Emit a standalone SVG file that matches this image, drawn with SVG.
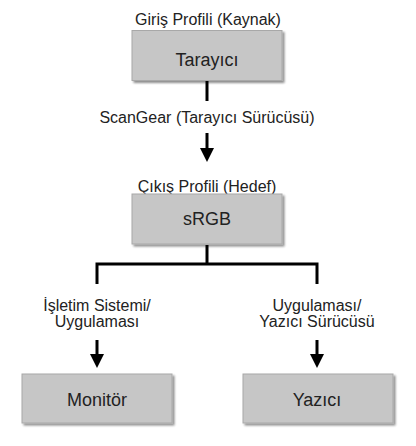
<svg xmlns="http://www.w3.org/2000/svg" width="416" height="446" viewBox="0 0 416 446">
<style>
.box{fill:#c6c6c6;stroke:#a8a8a8;stroke-width:1}
.t{font-family:"Liberation Sans",Arial,sans-serif;font-size:16px;fill:#222;text-anchor:middle}
.bt{font-family:"Liberation Sans",Arial,sans-serif;font-size:18px;fill:#222;text-anchor:middle}
.ln{stroke:#000;stroke-width:3;fill:none}
.ah{fill:#000}
</style>
<defs>
<filter id="ds" x="-10%" y="-10%" width="130%" height="140%">
<feGaussianBlur in="SourceAlpha" stdDeviation="1"/>
<feOffset dx="2" dy="2" result="b"/>
<feComponentTransfer><feFuncA type="linear" slope="0.45"/></feComponentTransfer>
<feMerge><feMergeNode/><feMergeNode in="SourceGraphic"/></feMerge>
</filter>
</defs>
<g id="connectors">
<line class="ln" x1="207" y1="81" x2="207" y2="101"/>
<line class="ln" x1="207" y1="133" x2="207" y2="150"/>
<polygon class="ah" points="200,148 214,148 207,162"/>
<polyline class="ln" points="207,245 207,264"/>
<polyline class="ln" points="97,284 97,264 317,264 317,284"/>
<line class="ln" x1="97" y1="340" x2="97" y2="356"/>
<polygon class="ah" points="90,354 104,354 97,368"/>
<line class="ln" x1="317" y1="340" x2="317" y2="356"/>
<polygon class="ah" points="310,354 324,354 317,368"/>
</g>
<g id="label-source"><text class="t" x="208" y="25">Giriş Profili (Kaynak)</text></g>
<g id="node-tarayici">
<rect class="box" x="132" y="30.5" width="150" height="50" filter="url(#ds)"/>
<text class="bt" x="207" y="66">Tarayıcı</text>
</g>
<g id="label-scangear"><text class="t" x="207" y="123">ScanGear (Tarayıcı Sürücüsü)</text></g>
<g id="label-output"><text class="t" x="207" y="192">Çıkış Profili (Hedef)</text></g>
<g id="node-srgb">
<rect class="box" x="132" y="194" width="150" height="50" filter="url(#ds)"/>
<text class="bt" x="207" y="225">sRGB</text>
</g>
<g id="label-os">
<text class="t" x="97" y="311">İşletim Sistemi/</text>
<text class="t" x="97" y="327">Uygulaması</text>
</g>
<g id="label-app">
<text class="t" x="317" y="311">Uygulaması/</text>
<text class="t" x="317" y="327">Yazıcı Sürücüsü</text>
</g>
<g id="node-monitor">
<rect class="box" x="22" y="374" width="150" height="49" filter="url(#ds)"/>
<text class="bt" x="97" y="406">Monitör</text>
</g>
<g id="node-yazici">
<rect class="box" x="243" y="374" width="150" height="49" filter="url(#ds)"/>
<text class="bt" x="317" y="406">Yazıcı</text>
</g>
</svg>
